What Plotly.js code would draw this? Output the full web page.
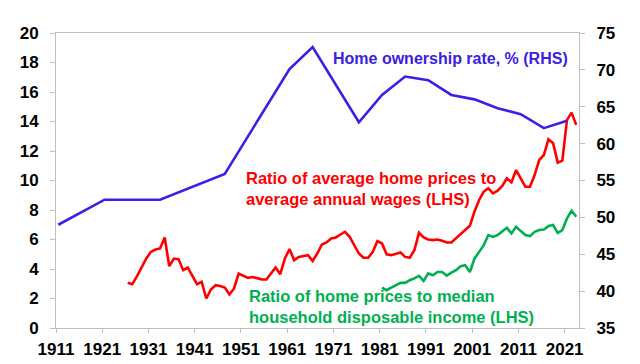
<!DOCTYPE html>
<html>
<head>
<meta charset="utf-8">
<script src="https://cdn.plot.ly/plotly-3.0.1.min.js"></script>
<style>html,body{margin:0;padding:0;background:#fff;}#chart{width:640px;height:364px;}</style>
</head>
<body>
<div id="chart"></div>
<script>
// Home ownership rate, % (RHS) - census years
const ownYears = [1911, 1921, 1933, 1947, 1961, 1966, 1976, 1981, 1986, 1991, 1996, 2001, 2006, 2011, 2016, 2021];
const ownRate  = [49.0, 52.4, 52.4, 55.9, 70.1, 73.1, 62.9, 66.6, 69.1, 68.6, 66.6, 66.0, 64.8, 64.0, 62.1, 63.1];

// Ratio of average home prices to average annual wages (LHS), 1926-2023
const wageYears = [];
for (let y = 1926; y <= 2023; y++) wageYears.push(y);
const wageRatio = [
  3.06, 2.97, 3.5, 4.1, 4.7, 5.16, 5.32, 5.39, 6.14, 4.19,
  4.71, 4.67, 3.92, 4.10, 3.5, 2.97, 3.13, 2.0, 2.61, 2.9,
  2.85, 2.74, 2.27, 2.68, 3.69, 3.55, 3.4, 3.46, 3.36, 3.3,
  3.29, 3.7, 4.1, 3.65, 4.71, 5.35, 4.6, 4.82, 4.88, 4.94,
  4.55, 5.05, 5.66, 5.8, 6.07, 6.14, 6.34, 6.52, 6.18, 5.62,
  5.05, 4.76, 4.76, 5.16, 5.89, 5.73, 5.0, 4.94, 5.05, 5.12,
  4.82, 4.76, 5.28, 6.45, 6.14, 6.0, 5.96, 6.0, 5.91, 5.8,
  5.8, 6.1, 6.35, 6.65, 6.93, 7.9, 8.68, 9.24, 9.47, 9.13,
  9.31, 9.63, 10.15, 9.88, 10.71, 10.15, 9.58, 9.58, 10.37, 11.39,
  11.73, 12.8, 12.53, 11.21, 11.35, 14.11, 14.6, 13.77
];

// Ratio of home prices to median household disposable income (LHS), 1981-2023
const incYears = [];
for (let y = 1981; y <= 2023; y++) incYears.push(y);
const incRatio = [
  2.74, 2.56, 2.74, 2.9, 3.06, 3.06, 3.24, 3.36, 3.53, 3.19,
  3.7, 3.58, 3.8, 3.8, 3.55, 3.75, 3.92, 4.19, 4.26, 3.8,
  4.7, 5.16, 5.62, 6.3, 6.18, 6.3, 6.52, 6.79, 6.41, 6.86,
  6.57, 6.3, 6.23, 6.52, 6.64, 6.68, 6.91, 6.98, 6.45, 6.64,
  7.43, 7.95, 7.54
];

// Axis tick labels
const xTickLabels = ["1911","1921","1931","1941","1951","1961","1971","1981","1991","2001","2011","2021"];
const yLeftTicks  = [0, 2, 4, 6, 8, 10, 12, 14, 16, 18, 20];
const yRightTicks = [35, 40, 45, 50, 55, 60, 65, 70, 75];

const BLUE = "#3a20e4", RED = "#ff0000", GREEN = "#00b050";
const FONT = "Arial, 'Liberation Sans', sans-serif";
const GRAY = "#bfbfbf";

const traces = [
  {x: ownYears, y: ownRate, yaxis: "y2", type: "scatter", mode: "lines",
   line: {color: BLUE, width: 2.6}, hoverinfo: "skip"},
  {x: wageYears, y: wageRatio, type: "scatter", mode: "lines",
   line: {color: RED, width: 2.6}, hoverinfo: "skip"},
  {x: incYears, y: incRatio, type: "scatter", mode: "lines",
   line: {color: GREEN, width: 2.6}, hoverinfo: "skip"}
];

const tickFont = {family: FONT, size: 17, color: "#000", weight: "bold"};

const layout = {
  width: 640, height: 364,
  margin: {l: 55.5, r: 60.7, t: 33.3, b: 36.3, pad: 0},
  paper_bgcolor: "#fff", plot_bgcolor: "#fff",
  showlegend: false,
  xaxis: {
    range: [1910.5, 2023.6],
    tickmode: "array",
    tickvals: xTickLabels.map(s => Number(s) - 0.5),
    ticktext: xTickLabels,
    ticks: "outside", ticklen: 4, tickwidth: 1, tickcolor: GRAY,
    showline: true, linecolor: GRAY, linewidth: 1, mirror: true,
    showgrid: false, zeroline: false,
    tickfont: tickFont, ticklabelstandoff: 2
  },
  yaxis: {
    range: [0, 20],
    tickmode: "array", tickvals: yLeftTicks,
    ticks: "outside", ticklen: 5, tickwidth: 1, tickcolor: GRAY,
    showline: true, linecolor: GRAY, linewidth: 1, mirror: true,
    showgrid: false, zeroline: false,
    tickfont: tickFont, ticklabelstandoff: 8
  },
  yaxis2: {
    range: [35, 75], overlaying: "y", side: "right",
    tickmode: "array", tickvals: yRightTicks,
    ticks: "outside", ticklen: 5, tickwidth: 1, tickcolor: GRAY,
    showline: true, linecolor: GRAY, linewidth: 1,
    showgrid: false, zeroline: false,
    tickfont: tickFont, ticklabelstandoff: 8
  },
  annotations: [
    {xref: "paper", yref: "paper", x: 0.525, y: 0.913, xanchor: "left", yanchor: "middle",
     align: "left", showarrow: false, text: "Home ownership rate, % (RHS)",
     font: {family: FONT, size: 16, color: BLUE, weight: "bold"}},
    {xref: "paper", yref: "paper", x: 0.359, y: 0.473, xanchor: "left", yanchor: "middle",
     align: "left", showarrow: false,
     text: "Ratio of average home prices to<br>average annual wages (LHS)",
     font: {family: FONT, size: 16.5, color: RED, weight: "bold"}},
    {xref: "paper", yref: "paper", x: 0.365, y: 0.074, xanchor: "left", yanchor: "middle",
     align: "left", showarrow: false,
     text: "Ratio of home prices to median<br>household disposable income (LHS)",
     font: {family: FONT, size: 16.5, color: GREEN, weight: "bold"}}
  ]
};

Plotly.newPlot("chart", traces, layout, {staticPlot: true, displayModeBar: false});
</script>
</body>
</html>
